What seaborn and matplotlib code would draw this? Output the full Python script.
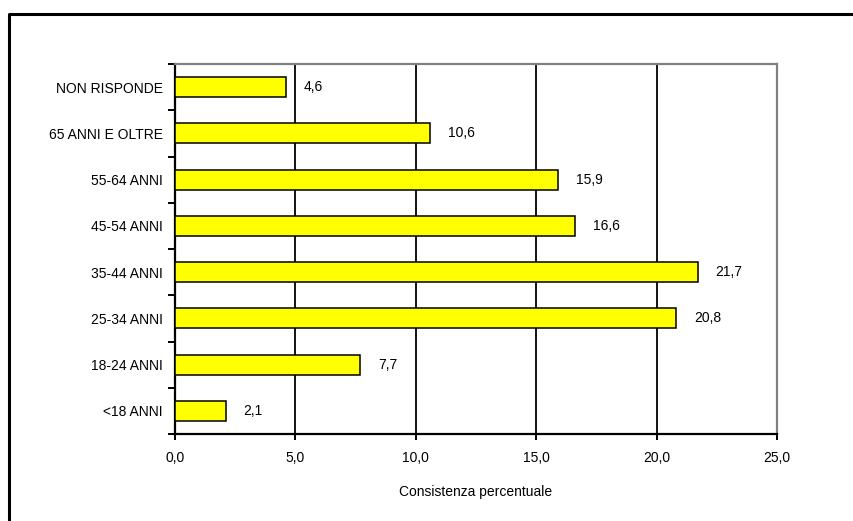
import matplotlib
matplotlib.use("Agg")
import matplotlib.pyplot as plt
from matplotlib.lines import Line2D
from matplotlib.ticker import FixedLocator, FuncFormatter
import pandas as pd
import seaborn as sns

# Age classes (top to bottom) and their percentage share
categories = ["NON RISPONDE", "65 ANNI E OLTRE", "55-64 ANNI", "45-54 ANNI",
              "35-44 ANNI", "25-34 ANNI", "18-24 ANNI", "<18 ANNI"]
values = [4.6, 10.6, 15.9, 16.6, 21.7, 20.8, 7.7, 2.1]
x_ticks = [0, 5, 10, 15, 20, 25]
x_label = "Consistenza percentuale"

sns.set_theme(style="white")
plt.rcParams["font.family"] = ["Liberation Sans", "DejaVu Sans"]
plt.rcParams["font.size"] = 10

df = pd.DataFrame({"classe": categories, "valore": values})

fig = plt.figure(figsize=(8.54, 5.21), dpi=100)
fig.patch.set_facecolor("white")
ax = fig.add_axes([175 / 854, 1 - 434 / 521, 602 / 854, 370 / 521])

sns.barplot(data=df, x="valore", y="classe", order=categories, orient="h",
            color="#FFFF00", saturation=1, width=0.43,
            edgecolor="black", linewidth=1.1, ax=ax, zorder=3)

def comma(v, pos=None):
    return f"{v:.1f}".replace(".", ",")

ax.set_xlim(0, 25)
ax.set_ylim(len(categories) - 0.5, -0.5)
ax.xaxis.set_major_locator(FixedLocator(x_ticks))
ax.xaxis.set_major_formatter(FuncFormatter(comma))

# Tick marks sit on category boundaries, labels at the centres
ax.yaxis.set_minor_locator(FixedLocator([i - 0.5 for i in range(len(categories) + 1)]))
ax.tick_params(axis="y", which="major", length=0, pad=8.6, labelsize=10, colors="black")
ax.tick_params(axis="y", which="minor", left=True, length=5, width=1.4, color="black")
ax.tick_params(axis="x", which="major", bottom=True, length=4.5, width=1.4,
               color="black", pad=8, labelsize=10, labelcolor="black")

ax.grid(axis="x", color="black", linewidth=1.3, zorder=1)
ax.grid(axis="y", visible=False)
ax.set_axisbelow(True)

for side in ("left", "bottom"):
    ax.spines[side].set_color("black")
    ax.spines[side].set_linewidth(1.6)
for side in ("top", "right"):
    ax.spines[side].set_color("#808080")
    ax.spines[side].set_linewidth(1.6)
    ax.spines[side].set_visible(True)

ax.set_ylabel("")
ax.set_xlabel(x_label, fontsize=10, color="black", labelpad=14)

for cont in ax.containers:
    ax.bar_label(cont, labels=[comma(v) for v in values], padding=13,
                 fontsize=10, color="black")

# Outer chart frame
fig.add_artist(Line2D([9 / 854, 9 / 854, 1.02], [-0.02, 1 - 14 / 521, 1 - 14 / 521],
                      transform=fig.transFigure, color="black", linewidth=2.2))

fig.savefig("out.png", dpi=100, facecolor="white")
